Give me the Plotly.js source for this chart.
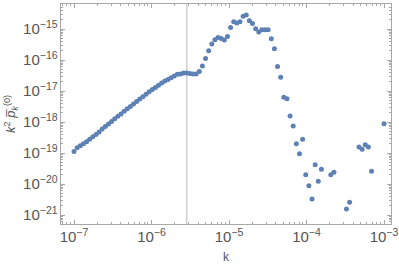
<!DOCTYPE html>
<html>
<head>
<meta charset="utf-8">
<script src="https://cdn.plot.ly/plotly-3.0.1.min.js"></script>
<style>
  html, body { margin: 0; padding: 0; background: #fff; }
  #chart { width: 399px; height: 268px; }
</style>
</head>
<body>
<div id="chart"></div>
<script>
// wavenumbers k (log-spaced samples; gaps where the value is not positive)
const kValues = [
  1.000e-7, 1.097e-7, 1.205e-7, 1.322e-7, 1.451e-7, 1.592e-7, 1.748e-7, 1.918e-7, 2.105e-7, 2.310e-7,
  2.535e-7, 2.783e-7, 3.054e-7, 3.352e-7, 3.678e-7, 4.037e-7, 4.431e-7, 4.863e-7, 5.337e-7, 5.857e-7,
  6.428e-7, 7.055e-7, 7.743e-7, 8.498e-7, 9.326e-7, 1.024e-6, 1.123e-6, 1.233e-6, 1.353e-6, 1.485e-6,
  1.630e-6, 1.789e-6, 1.963e-6, 2.154e-6, 2.365e-6, 2.595e-6, 2.848e-6, 3.126e-6, 3.431e-6, 3.765e-6,
  4.132e-6, 4.535e-6, 4.977e-6, 5.462e-6, 5.995e-6, 6.579e-6, 7.221e-6, 7.925e-6, 8.698e-6, 9.546e-6,
  1.048e-5, 1.150e-5, 1.262e-5, 1.385e-5, 1.520e-5, 1.668e-5, 1.831e-5, 2.009e-5, 2.205e-5, 2.420e-5,
  2.656e-5, 2.915e-5, 3.199e-5, 3.511e-5, 3.854e-5, 4.229e-5, 4.642e-5, 5.094e-5, 5.591e-5, 6.136e-5,
  6.734e-5, 7.391e-5, 8.111e-5, 8.902e-5, 9.770e-5, 1.072e-4, 1.177e-4, 1.292e-4, 1.418e-4, 1.556e-4,
  2.057e-4, 2.257e-4, 3.275e-4, 3.594e-4, 4.752e-4, 5.215e-4, 5.723e-4, 6.281e-4, 6.894e-4, 1.000e-3
];

// k^2 * rho_k^(0)
const rhoValues = [
  1.13e-19, 1.48e-19, 1.71e-19, 1.98e-19, 2.30e-19, 2.79e-19, 3.33e-19, 3.98e-19, 4.76e-19, 5.94e-19,
  7.21e-19, 8.61e-19, 1.04e-18, 1.27e-18, 1.53e-18, 1.82e-18, 2.23e-18, 2.67e-18, 3.18e-18, 3.86e-18,
  4.58e-18, 5.52e-18, 6.50e-18, 7.83e-18, 9.42e-18, 1.12e-17, 1.31e-17, 1.53e-17, 1.81e-17, 2.13e-17,
  2.38e-17, 2.69e-17, 3.05e-17, 3.48e-17, 3.53e-17, 3.86e-17, 3.86e-17, 3.67e-17, 3.53e-17, 3.53e-17,
  4.26e-17, 6.40e-17, 1.13e-16, 2.00e-16, 3.28e-16, 4.52e-16, 5.40e-16, 4.94e-16, 4.42e-16, 5.82e-16,
  1.13e-15, 1.72e-15, 1.56e-15, 1.72e-15, 2.62e-15, 2.83e-15, 1.85e-15, 1.53e-15, 1.02e-15, 8.00e-16,
  9.49e-16, 9.49e-16, 9.49e-16, 4.86e-16, 2.32e-16, 6.26e-17, 2.77e-17, 6.26e-18, 5.65e-18, 1.56e-18,
  7.43e-19, 2.00e-19, 9.48e-20, 2.77e-19, 2.00e-20, 8.81e-21, 3.28e-21, 4.20e-20, 1.22e-20, 2.98e-20,
  2.00e-20, 2.38e-20, 1.56e-21, 2.57e-21, 1.56e-19, 1.32e-19, 1.85e-19, 1.56e-19, 2.57e-20, 8.81e-19
];

// position of the vertical marker line
const kCut = 2.85e-6;

const frameColor = '#a8a8a8';
const textColor = '#555555';
const pointColor = '#5e81b5';
const fontFamily = 'Liberation Sans, Arial, sans-serif';

const cutLine = {
  type: 'scatter',
  mode: 'lines',
  x: [kCut, kCut],
  y: [1e-22, 1e-14],
  line: { color: '#c4c4c4', width: 1.2 },
  hoverinfo: 'skip',
  showlegend: false
};

const points = {
  type: 'scatter',
  mode: 'markers',
  x: kValues,
  y: rhoValues,
  marker: { size: 5, color: pointColor },
  showlegend: false
};

const axisBase = {
  type: 'log',
  showgrid: false,
  zeroline: false,
  showline: true,
  linecolor: frameColor,
  linewidth: 1,
  mirror: 'ticks',
  ticks: 'inside',
  ticklen: 4,
  tickcolor: frameColor,
  dtick: 1,
  exponentformat: 'power',
  tickfont: { family: fontFamily, size: 12, color: textColor },
  minor: { ticks: 'inside', ticklen: 2, tickcolor: frameColor, dtick: 'D1' }
};

const layout = {
  width: 399,
  height: 268,
  margin: { l: 61, r: 8, t: 4, b: 44 },
  paper_bgcolor: '#ffffff',
  plot_bgcolor: '#ffffff',
  xaxis: {
    ...axisBase,
    range: [-7.168, -2.91],
    title: {
      text: 'k',
      standoff: 8,
      font: { family: fontFamily, size: 12, color: textColor }
    }
  },
  yaxis: {
    ...axisBase,
    range: [-21.29, -14.19],
    title: {
      text: '<i>k</i><sup>2</sup> <i>p\u0305</i><sub><i>k</i></sub><sup>(0)</sup>',
      standoff: 4,
      font: { family: fontFamily, size: 13, color: textColor }
    }
  }
};

Plotly.newPlot('chart', [cutLine, points], layout, { displayModeBar: false, staticPlot: true });
</script>
</body>
</html>
